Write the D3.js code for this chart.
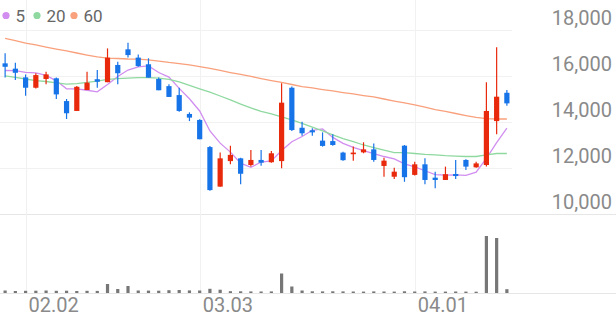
<!DOCTYPE html>
<meta charset="utf-8">
<style>
body { margin: 0; background: #fff; }
text { font-family: Roboto, sans-serif; }
</style>
<body>
<script src="https://d3js.org/d3.v7.min.js"></script>
<script>

// trading days shown on the chart
var dates = ["01.29","01.30","02.02","02.03","02.04","02.05","02.06","02.09","02.10","02.11",
  "02.12","02.13","02.19","02.20","02.23","02.24","02.25","02.26","02.27","03.03",
  "03.04","03.05","03.06","03.09","03.10","03.11","03.12","03.13","03.16","03.17",
  "03.18","03.19","03.20","03.23","03.24","03.25","03.26","03.27","03.30","03.31",
  "04.01","04.02","04.03","04.06","04.07","04.08","04.09","04.10","04.13","04.14"];

var open = [16550,16320,15940,15490,15870,15900,14910,14480,15390,15860,
  15730,16480,17160,16800,16510,15870,15560,15170,14350,14090,
  12910,11190,12300,12420,12130,12350,12250,12300,15490,13750,
  13640,13190,13170,12670,12600,12680,12810,12090,11620,12970,
  11700,12160,11580,11480,11740,12350,12030,12130,14040,15270];
var high = [16990,16580,16070,16120,16190,15940,15000,15570,16190,16260,
  17200,16620,17450,16940,16770,15930,15640,15490,14420,14120,
  12960,12670,12970,12450,12780,12780,12740,15680,15540,14010,
  13730,13550,13470,12710,12930,13120,13070,12450,12010,13000,
  12270,12420,11840,12060,12350,12380,12270,15730,17250,15390];
var low = [15930,15830,15140,15460,15640,15000,14130,14480,15390,15490,
  15730,15640,16800,16400,15930,15380,15090,14450,14040,13250,
  11010,11190,12160,11290,12060,12100,12230,11990,13610,13400,
  13400,12930,12970,12320,12320,12640,12270,11620,11520,11400,
  11670,11290,11120,11480,11520,11910,12010,12060,13470,14710];
var close = [16400,16140,15490,16040,16070,15200,14380,15530,15710,15750,
  16800,16120,16910,16430,15930,15380,15090,14480,14190,13250,
  11040,12420,12570,11750,12350,12230,12640,14840,13650,13510,
  13550,12960,13000,12340,12670,12810,12350,12320,11840,11600,
  12160,11480,11480,11730,11650,12060,12200,14480,15100,14810];

// volume (thousand shares)
var volume = [250,200,220,230,250,220,230,200,220,210,
  900,400,700,250,240,230,280,300,260,250,
  420,330,180,170,160,150,160,1950,650,250,
  170,160,170,160,150,140,160,150,140,170,
  150,160,140,140,150,140,130,5700,5500,380];

// moving averages as drawn
var ma5 = [16240,16230,16160,16140,16030,15790,15440,15440,15380,15310,
  15630,15980,16260,16400,16440,16150,15950,15460,15010,14480,
  13610,13080,12690,12210,12030,12260,12310,12760,13140,13370,
  13640,13700,13330,13070,12900,12760,12630,12500,12400,12180,
  12050,11880,11710,11690,11700,11680,11820,12420,13100,13730];
var ma20 = [16010,15940,15870,15800,15760,15700,15650,15670,15720,15780,
  15850,15890,15910,15930,15930,15910,15850,15740,15590,15440,
  15300,15130,14960,14780,14610,14460,14350,14220,14090,13940,
  13780,13610,13440,13280,13150,13000,12890,12780,12670,12670,
  12630,12590,12570,12540,12520,12500,12500,12570,12630,12630];
var ma60 = [17640,17540,17430,17350,17260,17170,17090,17000,16910,16830,
  16780,16760,16740,16730,16700,16650,16590,16540,16480,16410,
  16330,16240,16150,16070,15980,15890,15800,15720,15630,15540,
  15480,15410,15350,15280,15220,15150,15090,15000,14910,14830,
  14740,14650,14540,14460,14370,14280,14200,14150,14130,14130];

var maLabels = ["5", "20", "60"];
var priceTicks = [10000, 12000, 14000, 16000, 18000];
var dateTicks = ["02.02", "03.03", "04.01"];

var width = 616, height = 321;
var plotRight = 512;
var upColor = "#e8290c", downColor = "#1673e8";
var maColors = ["#d18ef0", "#8fd9a0", "#f9a07c"];

var x = d3.scaleBand().domain(dates).range([0, plotRight]);
var y = d3.scaleLinear().domain([10000, 18000]).range([214, 30]);
var yv = d3.scaleLinear().domain([0, 6000]).range([293, 233]);

function cx(d) { return x(d) + x.bandwidth() / 2; }

var svg = d3.select("body").append("svg")
    .attr("width", width)
    .attr("height", height);

// horizontal grid
svg.append("g").selectAll("line")
    .data(priceTicks)
  .enter().append("line")
    .attr("x1", 0)
    .attr("x2", function(d) { return d == 10000 ? width : plotRight; })
    .attr("y1", function(d) { return Math.round(y(d)) + 0.5; })
    .attr("y2", function(d) { return Math.round(y(d)) + 0.5; })
    .style("stroke", function(d) { return d == 10000 ? "#e6e6e6" : "#f1f1f1"; });

// volume baseline
svg.append("line")
    .attr("x1", 0).attr("x2", width)
    .attr("y1", yv(0) + 0.5).attr("y2", yv(0) + 0.5)
    .style("stroke", "#e6e6e6");

// vertical grid
svg.append("g").selectAll("line")
    .data(dateTicks)
  .enter().append("line")
    .attr("x1", function(d) { return Math.round(cx(d)) + 0.5; })
    .attr("x2", function(d) { return Math.round(cx(d)) + 0.5; })
    .attr("y1", 0)
    .attr("y2", yv(0))
    .style("stroke", "#f1f1f1");

// price labels
svg.append("g").selectAll("text")
    .data(priceTicks)
  .enter().append("text")
    .attr("x", 612)
    .attr("y", function(d) { return y(d) - 5; })
    .attr("text-anchor", "end")
    .style("font-size", "20px")
    .style("fill", "#8a8a8a")
    .text(function(d) { return d3.format(",")(d); });

// date labels
svg.append("g").selectAll("text")
    .data(dateTicks)
  .enter().append("text")
    .attr("x", function(d) { return cx(d) + 3; })
    .attr("y", 312)
    .style("font-size", "20px")
    .style("fill", "#8a8a8a")
    .text(function(d) { return d; });

// moving average lines
var line = d3.line()
    .x(function(d, i) { return cx(dates[i]); })
    .y(function(d) { return y(d); });

[ma5, ma20, ma60].forEach(function(s, k) {
  svg.append("path")
      .datum(s)
      .attr("d", line)
      .style("fill", "none")
      .style("stroke", maColors[k])
      .style("stroke-width", 1.3);
});

// candles
var candles = svg.append("g").selectAll("g")
    .data(dates)
  .enter().append("g");

candles.append("line")
    .attr("x1", function(d) { return cx(d); })
    .attr("x2", function(d) { return cx(d); })
    .attr("y1", function(d, i) { return y(high[i]); })
    .attr("y2", function(d, i) { return y(low[i]); })
    .style("stroke", function(d, i) { return close[i] >= open[i] ? upColor : downColor; })
    .style("stroke-width", 1.2);

candles.append("rect")
    .attr("x", function(d) { return cx(d) - 2.6; })
    .attr("width", 5.2)
    .attr("y", function(d, i) { return y(Math.max(open[i], close[i])); })
    .attr("height", function(d, i) { return Math.max(1, Math.abs(y(open[i]) - y(close[i]))); })
    .style("fill", function(d, i) { return close[i] >= open[i] ? upColor : downColor; });

// volume bars
svg.append("g").selectAll("rect")
    .data(volume)
  .enter().append("rect")
    .attr("x", function(d, i) { return cx(dates[i]) - 1.6; })
    .attr("width", 3.2)
    .attr("y", function(d) { return yv(d); })
    .attr("height", function(d) { return yv(0) - yv(d); })
    .style("fill", "#777");

// legend
var legendDotX = [6, 37, 74];
var legend = svg.append("g").selectAll("g")
    .data(maLabels)
  .enter().append("g");

legend.append("circle")
    .attr("cx", function(d, i) { return legendDotX[i]; })
    .attr("cy", 15.5)
    .attr("r", 3.6)
    .style("fill", function(d, i) { return maColors[i]; });

legend.append("text")
    .attr("x", function(d, i) { return legendDotX[i] + 9.5; })
    .attr("y", 21.6)
    .style("font-size", "17px")
    .style("fill", "#666")
    .text(function(d) { return d; });

</script>
</body>
